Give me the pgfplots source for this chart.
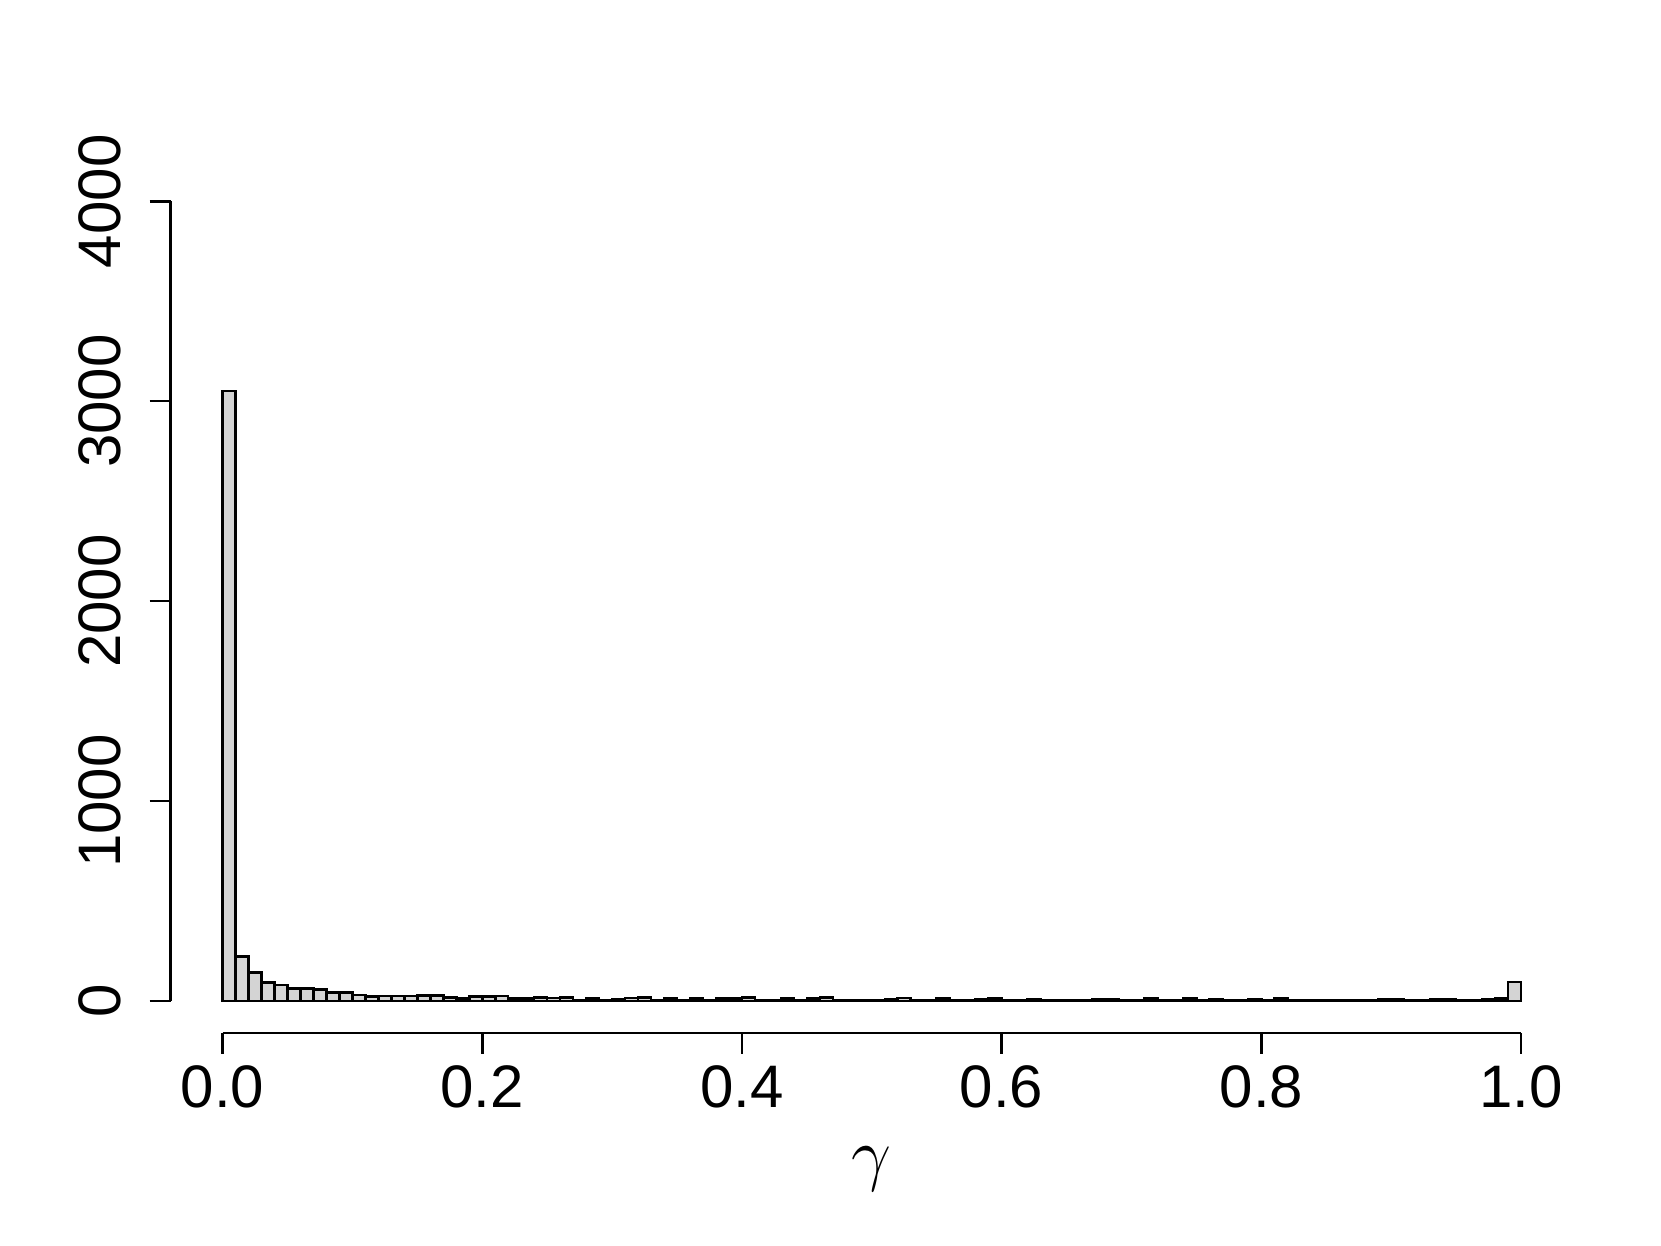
\documentclass[border=0pt]{standalone}
\usepackage{fontspec}
\setmainfont{Liberation Sans}
\usepackage{pgfplots}
\pgfplotsset{compat=1.18}
\definecolor{histfill}{gray}{0.83}

\pgfplotstableread{
x y
0.00 3050
0.01 223
0.02 142
0.03 92
0.04 80
0.05 63
0.06 63
0.07 58
0.08 42
0.09 42
0.10 30
0.11 23
0.12 25
0.13 25
0.14 25
0.15 27
0.16 27
0.17 17
0.18 13
0.19 22
0.20 22
0.21 25
0.22 13
0.23 13
0.24 18
0.25 15
0.26 18
0.27 5
0.28 13
0.29 3
0.30 8
0.31 15
0.32 17
0.33 4
0.34 12
0.35 5
0.36 12
0.37 5
0.38 12
0.39 13
0.40 17
0.41 4
0.42 3
0.43 12
0.44 4
0.45 13
0.46 17
0.47 3
0.48 5
0.49 5
0.50 4
0.51 10
0.52 15
0.53 4
0.54 5
0.55 12
0.56 4
0.57 5
0.58 10
0.59 13
0.60 5
0.61 4
0.62 8
0.63 2
0.64 2
0.65 6
0.66 6
0.67 10
0.68 10
0.69 4
0.70 5
0.71 13
0.72 4
0.73 5
0.74 12
0.75 4
0.76 8
0.77 4
0.78 3
0.79 8
0.80 4
0.81 12
0.82 4
0.83 4
0.84 6
0.85 6
0.86 4
0.87 6
0.88 3
0.89 8
0.90 8
0.91 3
0.92 3
0.93 8
0.94 8
0.95 3
0.96 2
0.97 10
0.98 12
0.99 95
1.00 0
}\histdata

\begin{document}
\begin{tikzpicture}
\begin{axis}[
    at={(0,0)}, anchor=south west,
    scale only axis,
    width=490.84pt, height=302.3pt,
    xmin=-0.04, xmax=1.04, ymin=-160, ymax=4160,
    clip=false,
    axis line style={draw=none},
    xtick={0,0.2,0.4,0.6,0.8,1},
    ytick={0,1000,2000,3000,4000},
    minor tick num=0,
    xtick pos=left, ytick pos=left,
    tick align=outside,
    major tick length=7.35pt,
    every tick/.style={black, line width=0.9pt},
    /pgf/number format/assume math mode=true,
    tick label style={font=\fontsize{21}{25}\selectfont},
    xticklabel style={anchor=north, inner sep=0pt, yshift=-3.9pt,
        /pgf/number format/.cd, fixed, fixed zerofill, precision=1},
    yticklabel style={rotate=90, anchor=south, inner sep=0pt, yshift=9.8pt,
        /pgf/number format/.cd, fixed, 1000 sep={}},
    xlabel={$\gamma$},
    xlabel style={at={(axis description cs:0.5,0)}, anchor=center,
        yshift=-47.6pt, font=\fontsize{23}{27}\selectfont},
]
\addplot[ybar interval, fill=histfill, draw=black, line width=0.9pt]
    table[x=x, y=y] {\histdata};
\draw[line width=0.9pt] (axis cs:0,-160) -- (axis cs:1,-160);
\draw[line width=0.9pt] (axis cs:-0.04,0) -- (axis cs:-0.04,4000);
\end{axis}
\path[use as bounding box] (-59.71pt,-74.55pt) rectangle (521.64pt,361.55pt);
\end{tikzpicture}
\end{document}
